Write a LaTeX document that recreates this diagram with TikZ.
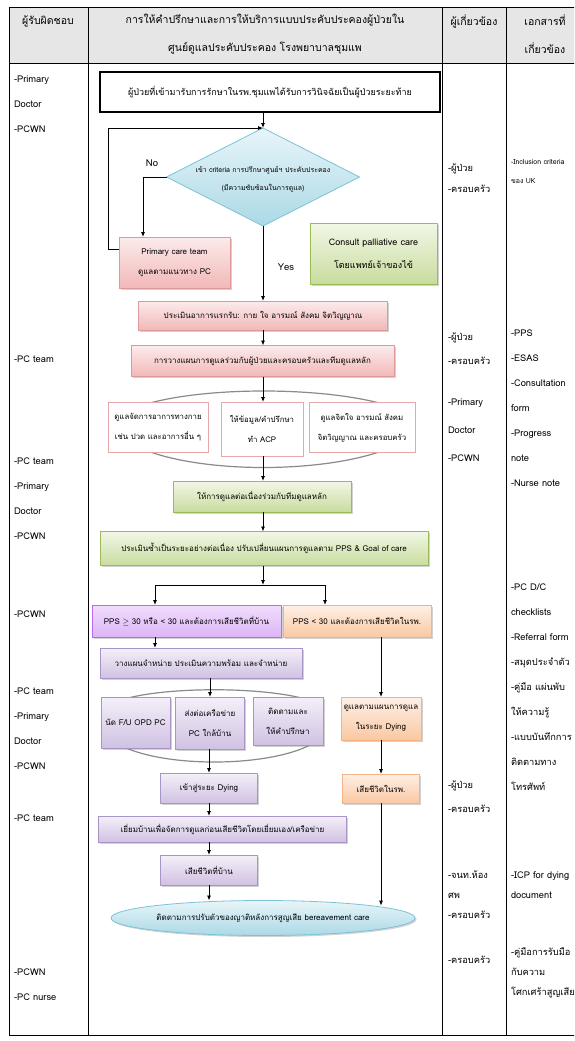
\documentclass[tikz,border=0pt]{standalone}
\usepackage{fontspec}
\setmainfont[Script=Thai]{Loma}
\usetikzlibrary{shapes.geometric,arrows.meta,shadows,calc}
\definecolor{hdr}{HTML}{E6E6E6}
\definecolor{pinkT}{HTML}{FCEBEB}
\definecolor{pinkB}{HTML}{F2B8B8}
\definecolor{pinkD}{HTML}{DD9A9A}
\definecolor{pinkL}{HTML}{E9A8A8}
\definecolor{greenT}{HTML}{F2F7E6}
\definecolor{greenB}{HTML}{C8DC9E}
\definecolor{greenD}{HTML}{9BBB59}
\definecolor{purT}{HTML}{F4F0F9}
\definecolor{purB}{HTML}{D0C1E2}
\definecolor{purD}{HTML}{A894C6}
\definecolor{vioT}{HTML}{F0DDFC}
\definecolor{vioB}{HTML}{DDB5F7}
\definecolor{vioD}{HTML}{B56CF0}
\definecolor{orT}{HTML}{FEF0E6}
\definecolor{orB}{HTML}{FAC8A2}
\definecolor{orD}{HTML}{F5B383}
\definecolor{bluT}{HTML}{E8F5F9}
\definecolor{bluB}{HTML}{ABD9E6}
\definecolor{bluD}{HTML}{7CC3D6}
\definecolor{arcg}{HTML}{8A8A8A}
\begin{document}
\begin{tikzpicture}[x=1pt,y=-1pt,
  every node/.style={inner sep=0pt, outer sep=0pt},
  arr/.style={-{Latex[length=5pt,width=4pt]}, line width=0.8pt, black},
  ln/.style={line width=0.8pt, black},
  arcline/.style={line width=1.2pt, arcg},
  tline/.style={line width=0.9pt, black},
  bx/.style={align=center, font=\fontsize{8}{20}\selectfont,
    drop shadow={shadow xshift=1.5pt, shadow yshift=-1.5pt, opacity=0.35}},
  pinkbox/.style={bx, draw=pinkD, line width=0.8pt, top color=pinkT, bottom color=pinkB},
  whitebox/.style={align=center, font=\fontsize{7.8}{20}\selectfont, draw=pinkL, line width=0.8pt, fill=white},
  greenbox/.style={bx, draw=greenD, line width=0.8pt, top color=greenT, bottom color=greenB},
  purbox/.style={bx, draw=purD, line width=0.8pt, top color=purT, bottom color=purB},
  viobox/.style={bx, draw=vioD, line width=0.8pt, top color=vioT, bottom color=vioB},
  orbox/.style={bx, draw=orD, line width=0.8pt, top color=orT, bottom color=orB},
  coltext/.style={align=left, anchor=west, font=\fontsize{9.3}{#1}\selectfont},
  coltext/.default=25,
  smalltext/.style={align=left, anchor=west, font=\fontsize{7}{#1}\selectfont},
  hdrtext/.style={align=center, font=\fontsize{10.5}{28}\selectfont}
]
\useasboundingbox (0,0) rectangle (574,1041);
\clip (0,0) rectangle (574,1041);
\fill[white] (0,0) rectangle (574,1041);

% ---------- table ----------
\fill[hdr] (9,7) rectangle (620,63);
\draw[tline] (9,7) rectangle (620,1035);
\draw[tline] (9,63) -- (620,63);
\draw[tline] (88,7) -- (88,1035);
\draw[tline] (442,7) -- (442,1035);
\draw[tline] (506,7) -- (506,1035);

\node[hdrtext] (h1) at (48,21) {ผู้รับผิดชอบ};
\node[hdrtext] (h2) at (265,34) {การให้คำปรึกษาและการให้บริการแบบประคับประคองผู้ป่วยใน\\ศูนย์ดูแลประคับประคอง โรงพยาบาลชุมแพ};
\node[hdrtext] (h3) at (474,21) {ผู้เกี่ยวข้อง};
\node[hdrtext] (h4) at (545,34) {เอกสารที่\\เกี่ยวข้อง};

% ---------- column 1 ----------
\node[coltext] (r1) at (14,104) {-Primary\\Doctor\\-PCWN};
\node[coltext] (r2) at (14,359) {-PC team};
\node[coltext] (r3) at (14,499) {-PC team\\-Primary\\Doctor\\-PCWN};
\node[coltext] (r4) at (14,614) {-PCWN};
\node[coltext] (r5) at (14,729) {-PC team\\-Primary\\Doctor\\-PCWN};
\node[coltext] (r6) at (14,818) {-PC team};
\node[coltext] (r7) at (14,985) {-PCWN\\-PC nurse};

% ---------- column 3 ----------
\node[coltext=21] (p1) at (448,178) {-ผู้ป่วย\\-ครอบครัว};
\node[coltext=24] (p2) at (448,349) {-ผู้ป่วย\\-ครอบครัว};
\node[coltext=28] (p3) at (448,430) {-Primary\\Doctor\\-PCWN};
\node[coltext=24] (p4) at (448,797) {-ผู้ป่วย\\-ครอบครัว};
\node[coltext=20] (p5) at (448,895) {-จนท.ห้อง\\ศพ\\-ครอบครัว};
\node[coltext] (p6) at (448,960) {-ครอบครัว};

% ---------- column 4 ----------
\node[smalltext=19] (d1) at (511,172) {-Inclusion criteria\\ของ UK};
\node[coltext] (d2) at (511,408) {-PPS\\-ESAS\\-Consultation\\form\\-Progress\\note\\-Nurse note};
\node[coltext=25] (d3) at (511,687) {-PC D/C\\checklists\\-Referral form\\-สมุดประจำตัว\\-คู่มือ แผ่นพับ\\ให้ความรู้\\-แบบบันทึกการ\\ติดตามทาง\\โทรศัพท์};
\node[coltext=20] (d4) at (511,885) {-ICP for dying\\document};
\node[coltext=20] (d5) at (511,973) {-คู่มือการรับมือ\\กับความ\\โศกเศร้าสูญเสีย};

% ---------- decorative arcs (behind boxes) ----------
\draw[arcline] (140,406) .. controls (200,386) and (326,386) .. (390,406);
\draw[arcline] (140,448) .. controls (200,474) and (326,474) .. (390,448);
\draw[arcline] (118,701) .. controls (160,686) and (268,686) .. (312,701);
\draw[arcline] (118,744) .. controls (160,768) and (268,768) .. (312,744);

% ---------- flowchart ----------
\node[draw, line width=1.3pt, fill=white, minimum width=340pt, minimum height=40pt, font=\fontsize{9}{20}\selectfont] (start) at (270,92)
  {ผู้ป่วยที่เข้ามารับการรักษาในรพ.ชุมแพได้รับการวินิจฉัยเป็นผู้ป่วยระยะท้าย};
\node[diamond, draw=bluD, line width=0.8pt, top color=bluT, bottom color=bluB, minimum width=193pt, minimum height=98pt] (dia) at (263,177) {};
\node[align=center, font=\fontsize{7}{18}\selectfont] (diatxt) at (263,179) {เข้า criteria การปรึกษาศูนย์ฯ ประคับประคอง\\(มีความซับซ้อนในการดูแล)};
\node[pinkbox, minimum width=111pt, minimum height=51pt] (pct) at (174.5,262.5) {Primary care team\\ดูแลตามแนวทาง PC};
\node[greenbox, minimum width=127pt, minimum height=61pt, font=\fontsize{9}{23}\selectfont] (consult) at (373.5,253.5) {Consult palliative care\\โดยแพทย์เจ้าของไข้};
\node[font=\fontsize{9.5}{11}\selectfont] (no) at (152,163) {No};
\node[font=\fontsize{9.5}{11}\selectfont] (yes) at (286,267) {Yes};

\node[pinkbox, minimum width=249pt, minimum height=29pt] (eval1) at (263,315.5) {ประเมินอาการแรกรับ: กาย ใจ อารมณ์ สังคม จิตวิญญาณ};
\node[pinkbox, minimum width=263pt, minimum height=31pt] (plan) at (262.5,361) {การวางแผนการดูแลร่วมกับผู้ป่วยและครอบครัวและทีมดูแลหลัก};
\node[whitebox, minimum width=100pt, minimum height=50pt] (b1) at (158,427.5) {ดูแลจัดการอาการทางกาย\\เช่น ปวด และอาการอื่น ๆ};
\node[whitebox, minimum width=82pt, minimum height=54pt] (b2) at (262,429) {ให้ข้อมูล/คำปรึกษา\\ทำ ACP};
\node[whitebox, minimum width=106pt, minimum height=50pt] (b3) at (362,427.5) {ดูแลจิตใจ อารมณ์ สังคม\\จิตวิญญาณ และครอบครัว};
\node[greenbox, minimum width=178pt, minimum height=31pt] (cont) at (262,496.5) {ให้การดูแลต่อเนื่องร่วมกับทีมดูแลหลัก};
\node[greenbox, minimum width=328pt, minimum height=34pt] (reeval) at (264,548.5) {ประเมินซ้ำเป็นระยะอย่างต่อเนื่อง ปรับเปลี่ยนแผนการดูแลตาม PPS \& Goal of care};
\coordinate (jn) at (263,585);
\coordinate (jl) at (155,585);
\coordinate (jr) at (325,585);
\node[viobox, minimum width=189pt, minimum height=32pt] (pps1) at (186.5,621) {PPS $\geq$ 30 หรือ < 30 และต้องการเสียชีวิตที่บ้าน};
\node[orbox, minimum width=148pt, minimum height=32pt] (pps2) at (357,621) {PPS < 30 และต้องการเสียชีวิตในรพ.};
\node[purbox, minimum width=202pt, minimum height=30pt] (dc) at (201,663) {วางแผนจำหน่าย ประเมินความพร้อม และจำหน่าย};
\node[purbox, minimum width=69pt, minimum height=51pt] (c1) at (135.5,722.5) {นัด F/U OPD PC};
\node[purbox, minimum width=69pt, minimum height=52pt] (c2) at (210,723) {ส่งต่อเครือข่าย\\PC ใกล้บ้าน};
\node[purbox, minimum width=70pt, minimum height=48pt] (c3) at (288,721) {ติดตามและ\\ให้คำปรึกษา};
\node[purbox, minimum width=97pt, minimum height=30pt] (dying) at (209,788) {เข้าสู่ระยะ Dying};
\node[purbox, minimum width=248pt, minimum height=26pt] (visit) at (222.5,829) {เยี่ยมบ้านเพื่อจัดการดูแลก่อนเสียชีวิตโดยเยี่ยมเอง/เครือข่าย};
\node[purbox, minimum width=97pt, minimum height=30pt] (home) at (209,870) {เสียชีวิตที่บ้าน};
\node[orbox, minimum width=80pt, minimum height=43pt] (o1) at (381,718.5) {ดูแลตามแผนการดูแล\\ในระยะ Dying};
\node[orbox, minimum width=77pt, minimum height=29pt] (o2) at (381,788.5) {เสียชีวิตในรพ.};
\node[ellipse, draw=bluD, line width=0.8pt, top color=bluT, bottom color=bluB, minimum width=304pt, minimum height=35pt,
  drop shadow={shadow xshift=1.5pt, shadow yshift=-1.5pt, opacity=0.35}] (ell) at (263,918) {};
\node[font=\fontsize{8}{20}\selectfont] (elltxt) at (263,918) {ติดตามการปรับตัวของญาติหลังการสูญเสีย bereavement care};

% ---------- connectors ----------
\draw[arr] (dia.north |- start.south) -- (dia.north);
\coordinate (nocorner) at (143,177);
\draw[arr] (dia.west) -- (nocorner) -- (nocorner |- pct.north);
\coordinate (loopb) at (108,249);
\draw[arr] (loopb -| pct.west) -- (loopb) -- (loopb |- dia.north) -- (dia.north);
\draw[arr] (dia.south) -- (eval1.north);
\draw[arr] (eval1.south) -- (eval1.south |- plan.north);
\draw[arr] (eval1.south |- plan.south) -- (eval1.south |- b2.north);
\draw[arr] (eval1.south |- b2.south) -- (eval1.south |- cont.north);
\draw[arr] (eval1.south |- cont.south) -- (eval1.south |- reeval.north);
\draw[arr] (eval1.south |- reeval.south) -- (jn);
\draw[ln] (jl) -- (jr);
\draw[arr] (jl) -- (jl |- pps1.north);
\draw[arr] (jr) -- (jr |- pps2.north);
\draw[arr] (jl |- pps1.south) -- (jl |- dc.north);
\draw[arr] (c2.north |- dc.south) -- (c2.north);
\draw[arr] (dying.north |- c2.south) -- (dying.north);
\draw[arr] (dying.south) -- (dying.south |- visit.north);
\draw[arr] (home.north |- visit.south) -- (home.north);
\draw[arr] (home.south) -- (home.south |- ell.north);
\draw[arr] (o1.north |- pps2.south) -- (o1.north);
\draw[arr] (o1.south) -- (o2.north);
\draw[arr] (o2.south) -- (o2.south |- ell.north east);
\end{tikzpicture}
\end{document}
